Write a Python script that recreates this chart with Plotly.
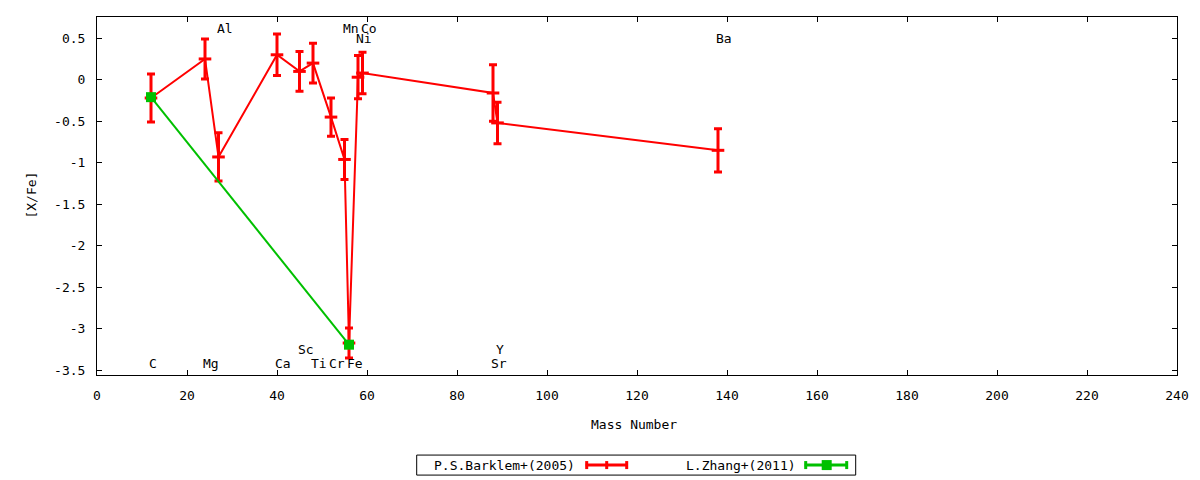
import plotly.graph_objects as go

# ---------------- data ----------------
elements = ["C", "Mg", "Al", "Ca", "Sc", "Ti", "Cr", "Mn", "Fe", "Ni", "Co", "Sr", "Y", "Ba"]
mass_number = [12, 24, 27, 40, 45, 48, 52, 55, 56, 58, 59, 88, 89, 138]
barklem_xfe = [-0.22, 0.25, -0.93, 0.30, 0.10, 0.20, -0.45, -0.96, -3.17, 0.03, 0.08, -0.16, -0.52, -0.85]
barklem_err = [0.29, 0.24, 0.29, 0.25, 0.24, 0.24, 0.23, 0.24, 0.18, 0.26, 0.25, 0.34, 0.25, 0.26]
label_y = [-3.42, -3.42, 0.62, -3.42, -3.25, -3.42, -3.42, 0.62, -3.42, 0.50, 0.62, -3.42, -3.25, 0.50]

zhang_mass = [12, 56]
zhang_xfe = [-0.21, -3.19]

x_ticks = [0, 20, 40, 60, 80, 100, 120, 140, 160, 180, 200, 220, 240]
y_ticks = [0.5, 0, -0.5, -1, -1.5, -2, -2.5, -3, -3.5]
y_tick_text = ["0.5", "0", "-0.5", "-1", "-1.5", "-2", "-2.5", "-3", "-3.5"]

series_names = ["P.S.Barklem+(2005)", "L.Zhang+(2011)"]

# ---------------- style ----------------
FONT = "DejaVu Sans Mono"
FS = 13
RED = "#ff0000"
GREEN = "#00c000"

# page offset of the figure (browser body margin)
OFF = 8
W, H = 1200 - OFF, 480 - OFF
PL, PR, PT, PB = 97.3, 1177.3, 17.3, 375.0  # plot area in page pixels


def px(x):
    return (x - PL) / (PR - PL)


def py(y):
    return (PB - y) / (PB - PT)


fig = go.Figure()

fig.add_trace(go.Scatter(
    x=mass_number, y=barklem_xfe, name=series_names[0],
    mode="lines+markers",
    line=dict(color=RED, width=2),
    marker=dict(symbol="line-ew", size=9, line=dict(color=RED, width=3), color=RED),
    error_y=dict(type="data", array=barklem_err, visible=True, color=RED, thickness=3, width=4),
    showlegend=False,
))

fig.add_trace(go.Scatter(
    x=zhang_mass, y=zhang_xfe, name=series_names[1],
    mode="lines+markers",
    line=dict(color=GREEN, width=2),
    marker=dict(symbol="square", size=10, color=GREEN),
    showlegend=False,
))

annotations = []
for el, m, ly in zip(elements, mass_number, label_y):
    annotations.append(dict(
        x=m, y=ly, xref="x", yref="y", text=el, showarrow=False,
        xanchor="left", yanchor="middle", xshift=-4,
        font=dict(family=FONT, size=FS, color="black"),
    ))

# axis titles
annotations.append(dict(
    x=px(634), y=py(424), xref="paper", yref="paper", text="Mass Number",
    showarrow=False, xanchor="center", yanchor="middle",
    font=dict(family=FONT, size=FS, color="black"),
))
annotations.append(dict(
    x=px(32), y=py(195), xref="paper", yref="paper", text="[X/Fe]",
    showarrow=False, xanchor="center", yanchor="middle", textangle=-90,
    font=dict(family=FONT, size=FS, color="black"),
))

# legend texts
annotations.append(dict(
    x=px(577), y=py(465), xref="paper", yref="paper", text=series_names[0],
    showarrow=False, xanchor="right", yanchor="middle",
    font=dict(family=FONT, size=FS, color="black"),
))
annotations.append(dict(
    x=px(798), y=py(465), xref="paper", yref="paper", text=series_names[1],
    showarrow=False, xanchor="right", yanchor="middle",
    font=dict(family=FONT, size=FS, color="black"),
))

shapes = []
# legend box
shapes.append(dict(type="rect", xref="paper", yref="paper",
                   x0=px(417), x1=px(856), y0=py(475), y1=py(455),
                   line=dict(color="black", width=1), fillcolor="rgba(0,0,0,0)"))


def seg(x0, y0, x1, y1, color, width):
    return dict(type="line", xref="paper", yref="paper",
                x0=px(x0), y0=py(y0), x1=px(x1), y1=py(y1),
                line=dict(color=color, width=width))


# red legend sample
shapes.append(seg(586, 465, 628, 465, RED, 3))
shapes.append(seg(587, 461, 587, 469, RED, 3))
shapes.append(seg(627, 461, 627, 469, RED, 3))
shapes.append(seg(607, 461, 607, 469, RED, 3))
# green legend sample
shapes.append(seg(805, 465, 848, 465, GREEN, 3))
shapes.append(seg(806, 461, 806, 469, GREEN, 3))
shapes.append(seg(847, 461, 847, 469, GREEN, 3))
shapes.append(dict(type="rect", xref="paper", yref="paper",
                   x0=px(822), x1=px(832), y0=py(470), y1=py(460),
                   line=dict(color=GREEN, width=0), fillcolor=GREEN))

fig.update_layout(
    width=W, height=H,
    margin=dict(l=PL - OFF, r=1200 - PR, t=PT - OFF, b=480 - PB, pad=0),
    paper_bgcolor="white", plot_bgcolor="white",
    font=dict(family=FONT, size=FS, color="black"),
    annotations=annotations, shapes=shapes,
    showlegend=False,
)

fig.update_xaxes(
    range=[0, 240], tickmode="array", tickvals=x_ticks,
    ticks="inside", ticklen=5, tickwidth=1, tickcolor="black",
    showline=True, linecolor="black", linewidth=1, mirror="ticks",
    showgrid=False, zeroline=False, ticklabelstandoff=8,
    tickfont=dict(family=FONT, size=FS, color="black"),
)
fig.update_yaxes(
    range=[-3.555, 0.755], tickmode="array", tickvals=y_ticks, ticktext=y_tick_text,
    ticks="inside", ticklen=5, tickwidth=1, tickcolor="black",
    showline=True, linecolor="black", linewidth=1, mirror="ticks",
    showgrid=False, zeroline=False, ticklabelstandoff=8,
    tickfont=dict(family=FONT, size=FS, color="black"),
)

fig.write_html("out.html")
